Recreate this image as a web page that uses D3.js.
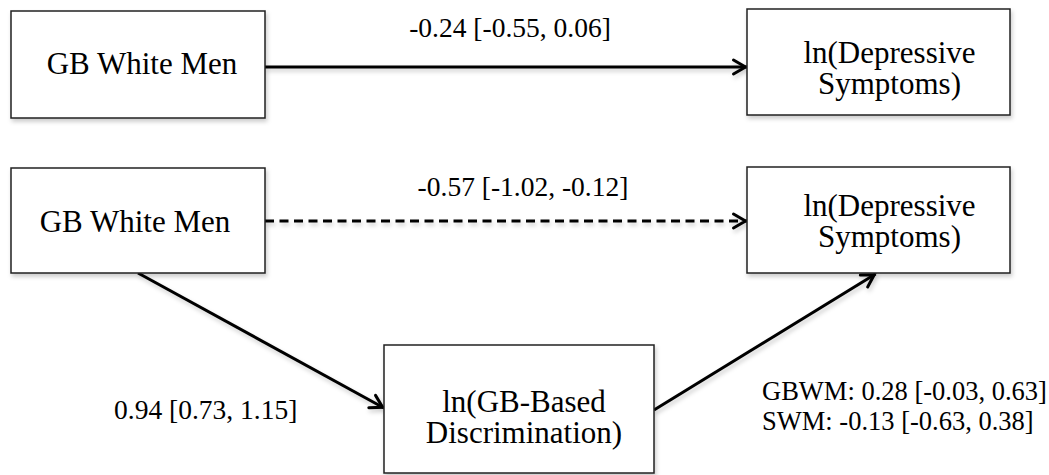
<!DOCTYPE html>
<html lang="en">
<head>
<meta charset="UTF-8">
<title>Mediation Diagram</title>
<script src="https://d3js.org/d3.v7.min.js"></script>
<style>
    body { margin: 0; background: #fff; }
    svg { display: block; }
    svg text { font-family: 'Liberation Serif', Tinos, 'DejaVu Serif', 'Noto Serif', Times, serif; }
</style>
</head>
<body>
<div id="chart"></div>
<script>
    // node texts (one entry per line)
    const nodeIds = ["x1", "y1", "x2", "y2", "m"];
    const nodeLines = [
        ["GB White Men"],
        ["ln(Depressive", "Symptoms)"],
        ["GB White Men"],
        ["ln(Depressive", "Symptoms)"],
        ["ln(GB-Based", "Discrimination)"]
    ];

    // path estimates with 95% CI
    const pathNames = ["total", "direct", "a"];
    const estimates = [-0.24, -0.57, 0.94];
    const lowerCI = [-0.55, -1.02, 0.73];
    const upperCI = [0.06, -0.12, 1.15];

    // b path, by group
    const groupNames = ["GBWM", "SWM"];
    const groupEst = [0.28, -0.13];
    const groupLo = [-0.03, -0.63];
    const groupHi = [0.63, 0.38];

    const width = 1049, height = 475;
    const fmt = d3.formatLocale({decimal: ".", thousands: ",", grouping: [3], currency: ["", ""], minus: "-"}).format(".2f");
    const ci = (e, l, h) => `${fmt(e)} [${fmt(l)}, ${fmt(h)}]`;

    // layout of the boxes
    const layout = {
        x1: {x: 11, y: 11, w: 254, h: 107, dx: 4, base: [74]},
        y1: {x: 747, y: 9, w: 263, h: 106, dx: 11, base: [63, 94]},
        x2: {x: 11, y: 168, w: 254, h: 105, dx: -3, base: [232]},
        y2: {x: 747, y: 167, w: 263, h: 106, dx: 11, base: [216, 247]},
        m: {x: 384, y: 345, w: 270, h: 128, dx: 5, base: [412, 443]}
    };
    const nodes = nodeIds.map((id, i) => Object.assign({id, lines: nodeLines[i]}, layout[id]));
    const byId = new Map(nodes.map(d => [d.id, d]));

    const svg = d3.select("#chart").append("svg")
        .attr("width", width)
        .attr("height", height)
        .attr("viewBox", `0 0 ${width} ${height}`);

    const defs = svg.append("defs");
    defs.append("filter").attr("id", "shadow")
        .attr("x", "-10%").attr("y", "-10%").attr("width", "130%").attr("height", "140%")
        .append("feDropShadow")
        .attr("dx", 1.5).attr("dy", 3).attr("stdDeviation", 2)
        .attr("flood-color", "#000").attr("flood-opacity", 0.2);
    defs.append("marker")
        .attr("id", "arrow")
        .attr("markerUnits", "userSpaceOnUse")
        .attr("viewBox", "-16 -10 20 20")
        .attr("markerWidth", 20).attr("markerHeight", 20)
        .attr("refX", 1.5).attr("refY", 0)
        .attr("orient", "auto")
        .append("path")
        .attr("d", "M-12,-7L0,0L-12,7")
        .attr("fill", "none")
        .attr("stroke", "#000")
        .attr("stroke-width", 3)
        .attr("stroke-linecap", "round");

    // edges between boxes
    const X1 = byId.get("x1"), Y1 = byId.get("y1"), X2 = byId.get("x2"), Y2 = byId.get("y2"), M = byId.get("m");
    const edges = [
        {id: "total", p: [[X1.x + X1.w, 67], [Y1.x, 67]], dash: null},
        {id: "direct", p: [[X2.x + X2.w, 221], [Y2.x, 221]], dash: "9,5.5"},
        {id: "a", p: [[X2.x + X2.w / 2, X2.y + X2.h], [M.x, M.y + M.h / 2 - 1]], dash: null},
        {id: "b", p: [[M.x + M.w, M.y + M.h / 2 + 1], [Y2.x + Y2.w / 2 - 3, Y2.y + Y2.h + 1]], dash: null}
    ];
    const line = d3.line();

    svg.append("g")
        .attr("filter", "url(#shadow)")
        .selectAll("path")
        .data(edges)
        .join("path")
        .attr("d", d => line(d.p))
        .attr("fill", "none")
        .attr("stroke", "#000")
        .attr("stroke-width", 3)
        .attr("stroke-dasharray", d => d.dash)
        .attr("marker-end", "url(#arrow)");

    const box = svg.append("g")
        .selectAll("g")
        .data(nodes)
        .join("g");

    box.append("rect")
        .attr("x", d => d.x)
        .attr("y", d => d.y)
        .attr("width", d => d.w)
        .attr("height", d => d.h)
        .attr("fill", "#fff")
        .attr("stroke", "#222")
        .attr("stroke-width", 1.5)
        .attr("filter", "url(#shadow)");

    box.selectAll("text")
        .data(d => d.lines.map((t, i) => ({t, x: d.x + d.w / 2 + d.dx, y: d.base[i]})))
        .join("text")
        .attr("x", d => d.x)
        .attr("y", d => d.y)
        .attr("text-anchor", "middle")
        .attr("font-size", 31)
        .attr("fill", "#000")
        .text(d => d.t);

    // coefficient labels
    const labelPos = [
        {x: 510, y: 37, anchor: "middle"},
        {x: 523, y: 196, anchor: "middle"},
        {x: 114, y: 419, anchor: "start"}
    ];
    svg.append("g")
        .selectAll("text")
        .data(estimates.map((e, i) => ({name: pathNames[i], s: ci(e, lowerCI[i], upperCI[i]), pos: labelPos[i]})))
        .join("text")
        .attr("x", d => d.pos.x)
        .attr("y", d => d.pos.y)
        .attr("text-anchor", d => d.pos.anchor)
        .attr("font-size", 27.5)
        .text(d => d.s);

    svg.append("g")
        .selectAll("text")
        .data(groupNames)
        .join("text")
        .attr("x", 762)
        .attr("y", (d, i) => 400 + i * 30)
        .attr("font-size", 26.5)
        .text((d, i) => `${d}: ${ci(groupEst[i], groupLo[i], groupHi[i])}`);
</script>
</body>
</html>
